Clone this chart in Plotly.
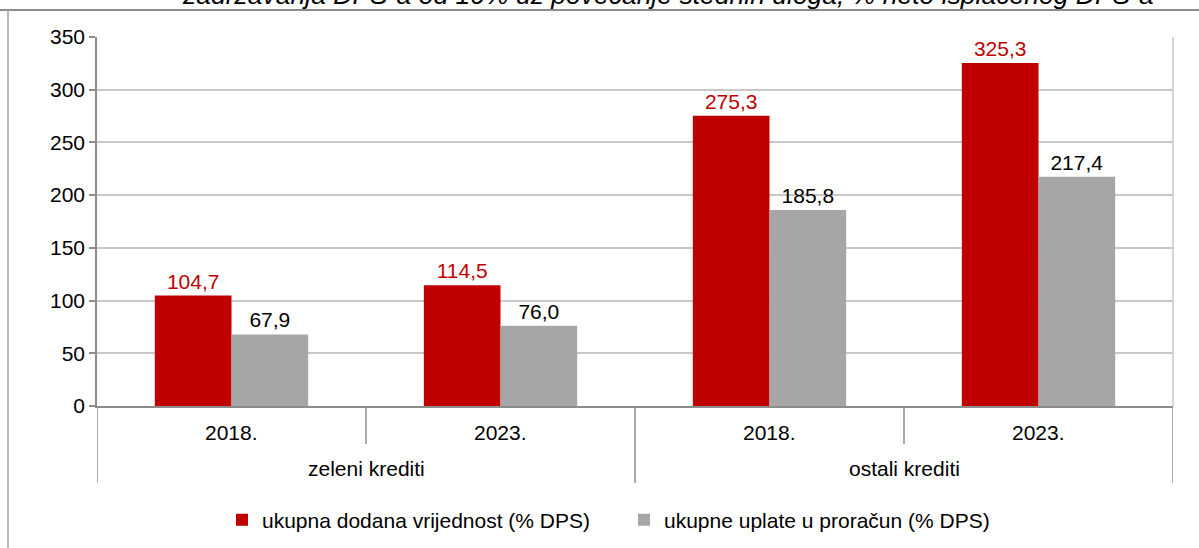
import plotly.graph_objects as go

# Chart data
groups = ["zeleni krediti", "zeleni krediti", "ostali krediti", "ostali krediti"]
years = ["2018.", "2023.", "2018.", "2023."]
dodana_vrijednost = [104.7, 114.5, 275.3, 325.3]
uplate_proracun = [67.9, 76.0, 185.8, 217.4]
series_names = ["ukupna dodana vrijednost (% DPS)", "ukupne uplate u proračun (% DPS)"]
title_text = "zadržavanja DPS-a od 10% uz povećanje štednih uloga, % neto isplaćenog DPS-a"
y_ticks = [0, 50, 100, 150, 200, 250, 300, 350]

RED = "#c00000"
GRAY = "#a6a6a6"
AXIS = "#8c8c8c"
GRID = "#c8c8c8"
FONT = "Liberation Sans, Arial, sans-serif"
FS = 21

# one category per (group, year) pair
x_keys = [f"{g} | {y}" for g, y in zip(groups, years)]

fig = go.Figure()
fig.add_trace(go.Bar(
    x=x_keys, y=dodana_vrijednost, name=series_names[0],
    marker=dict(color=RED, line=dict(width=0)),
    texttemplate="%{y:.1f}", textposition="outside",
    textfont=dict(color=RED, size=FS, family=FONT), cliponaxis=False,
))
fig.add_trace(go.Bar(
    x=x_keys, y=uplate_proracun, name=series_names[1],
    marker=dict(color=GRAY, line=dict(width=0)),
    texttemplate="%{y:.1f}", textposition="outside",
    textfont=dict(color="#000000", size=FS, family=FONT), cliponaxis=False,
))

L, R, T, B = 97, 26, 37, 142
W, H = 1199, 548
pw, ph = W - L - R, H - T - B

def px_x(p):
    return (p - L) / pw

def px_y(p):
    return (H - B - p) / ph

shapes = [
    # right edge of plotting area
    dict(type="line", xref="paper", yref="paper", x0=1, x1=1, y0=0, y1=1,
         line=dict(color=GRID, width=1.5)),
    # outer chart frame
    dict(type="line", xref="paper", yref="paper", x0=px_x(0), x1=px_x(W + 5),
         y0=px_y(10), y1=px_y(10), line=dict(color=AXIS, width=2)),
    dict(type="line", xref="paper", yref="paper", x0=px_x(8), x1=px_x(8),
         y0=px_y(10), y1=px_y(H + 5), line=dict(color="#a0a0a0", width=1.5)),
]

annotations = [dict(
    text="<i>" + title_text + "</i>", xref="paper", yref="paper",
    x=px_x(668), xanchor="center", y=px_y(-5), yanchor="middle",
    showarrow=False, font=dict(size=26.5, family=FONT, color="#000000"),
)]

# two-level category labels and their dividers
n = len(x_keys)
for i in range(n):
    annotations.append(dict(
        text=years[i], xref="x", yref="paper", x=i, y=px_y(432),
        xanchor="center", yanchor="middle", showarrow=False,
        font=dict(size=FS, family=FONT, color="#000000"),
    ))
group_starts = [i for i in range(n) if i == 0 or groups[i] != groups[i - 1]]
for k, s in enumerate(group_starts):
    e = group_starts[k + 1] if k + 1 < len(group_starts) else n
    annotations.append(dict(
        text=groups[s], xref="x", yref="paper", x=(s + e - 1) / 2, y=px_y(468),
        xanchor="center", yanchor="middle", showarrow=False,
        font=dict(size=FS, family=FONT, color="#000000"),
    ))
for b in range(n + 1):
    long_line = b in group_starts or b == n
    shapes.append(dict(
        type="line", xref="x", yref="paper", x0=b - 0.5, x1=b - 0.5,
        y0=0, y1=px_y(483 if long_line else 444),
        line=dict(color=AXIS, width=1.5),
    ))

fig.update_layout(
    width=W, height=H,
    margin=dict(l=L, r=R, t=T, b=B, autoexpand=False),
    paper_bgcolor="white", plot_bgcolor="white",
    font=dict(family=FONT, size=FS, color="#000000"),
    separators=", ",
    barmode="group", bargap=0.43, bargroupgap=0,
    showlegend=True,
    legend=dict(orientation="h", x=px_x(222), xanchor="left",
                y=px_y(520), yanchor="middle",
                font=dict(size=FS), itemwidth=30, traceorder="normal",
                entrywidth=357, entrywidthmode="pixels"),
    shapes=shapes,
    annotations=annotations,
)

fig.update_xaxes(
    type="category", range=[-0.5, n - 0.5], showgrid=False, showticklabels=False,
    showline=True, linecolor=AXIS, linewidth=1.5, ticks="", automargin=False,
)
fig.update_yaxes(
    range=[0, 350], tickvals=y_ticks, showgrid=True, gridcolor=GRID, gridwidth=1.5,
    showline=True, linecolor=AXIS, linewidth=1.5,
    ticks="outside", ticklen=6, tickcolor=AXIS, tickwidth=1.5,
    zeroline=False, tickfont=dict(size=FS), automargin=False,
)

fig.write_html("out.html")
